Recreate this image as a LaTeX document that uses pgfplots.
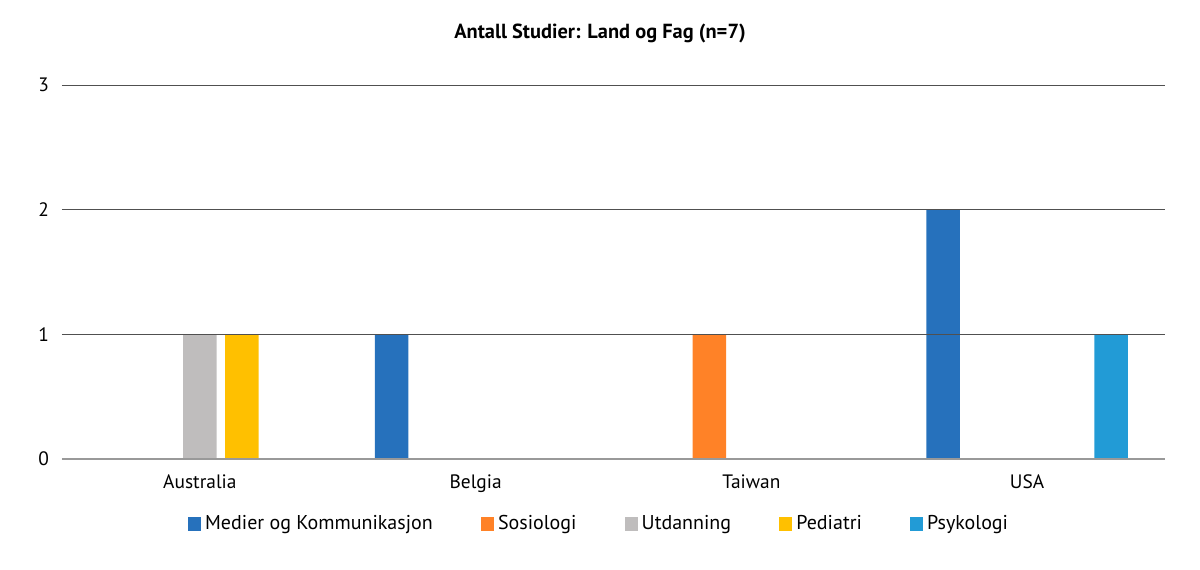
\documentclass[border=0pt]{standalone}
\usepackage{pgfplots}
\pgfplotsset{compat=1.18}
\usepackage{fontspec}
\setmainfont{PT Sans}
\definecolor{cMed}{HTML}{2671BC}
\definecolor{cSos}{HTML}{FF8227}
\definecolor{cUtd}{HTML}{BFBDBD}
\definecolor{cPed}{HTML}{FFC000}
\definecolor{cPsy}{HTML}{229BD6}
\definecolor{gridc}{HTML}{505050}
\begin{document}
\begin{tikzpicture}
\begin{axis}[
  scale only axis,
  width=551.5pt, height=187pt,
  at={(0pt,0pt)}, anchor=south west,
  ybar, bar width=0.1215,
  xmin=-0.5, xmax=3.5, ymin=0, ymax=3,
  xtick={0,1,2,3},
  xticklabels={Australia,Belgia,Taiwan,USA},
  ytick={0,1,2,3},
  ymajorgrids, grid style={gridc, line width=0.5pt},
  axis line style={draw=none},
  axis x line*=bottom,
  x axis line style={draw=gray!80, line width=0.8pt},
  major tick length=0pt,
  tick style={draw=none},
  axis on top,
  /pgf/number format/assume math mode=true,
  ticklabel style={font=\fontsize{9.7}{11}\selectfont, text=black},
  yticklabel style={xshift=-3pt},
  xticklabel style={yshift=-4.5pt},
  title={\bfseries Antall Studier: Land og Fag (n=7)},
  title style={at={(0.4878,1.107)}, anchor=center, yshift=0pt, font=\fontsize{10.2}{12}\selectfont},
  legend style={at={(0.4878,-0.1738)}, anchor=center, draw=none,
    legend columns=5, font=\fontsize{10}{12}\selectfont,
    /tikz/every even column/.append style={column sep=22pt}},
  legend image code/.code={\fill[#1] (0pt,-3.3pt) rectangle (6.6pt,3.3pt);},
]
\addplot[fill=cMed, draw=none, bar shift=-0.3046] coordinates {(0,0) (1,1) (2,0) (3,2)};
\addlegendentry{Medier og Kommunikasjon}
\addplot[fill=cSos, draw=none, bar shift=-0.1523] coordinates {(0,0) (1,0) (2,1) (3,0)};
\addlegendentry{Sosiologi}
\addplot[fill=cUtd, draw=none, bar shift=0] coordinates {(0,1) (1,0) (2,0) (3,0)};
\addlegendentry{Utdanning}
\addplot[fill=cPed, draw=none, bar shift=0.1523] coordinates {(0,1) (1,0) (2,0) (3,0)};
\addlegendentry{Pediatri}
\addplot[fill=cPsy, draw=none, bar shift=0.3046] coordinates {(0,0) (1,0) (2,0) (3,1)};
\addlegendentry{Psykologi}
\end{axis}
\pgfresetboundingbox
\path (-31pt,-55pt) rectangle (569pt,229.5pt);
\end{tikzpicture}
\end{document}
